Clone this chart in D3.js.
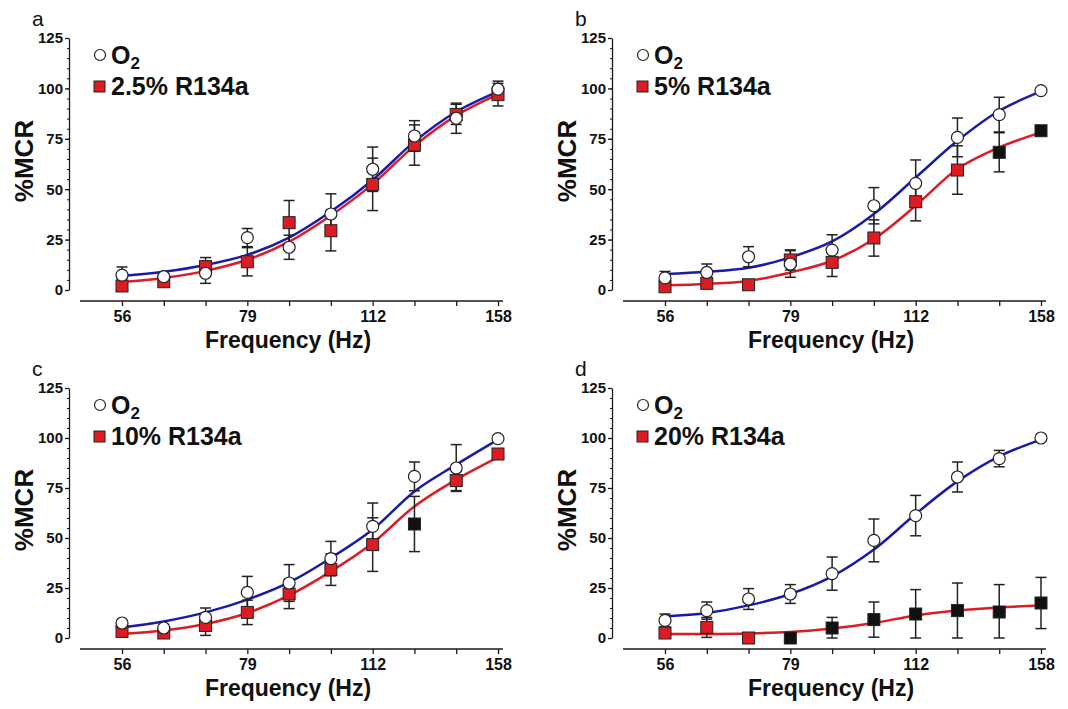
<!DOCTYPE html>
<html><head><meta charset="utf-8">
<script src="https://cdn.jsdelivr.net/npm/d3@7"></script>
<style>body{margin:0;background:#fff}svg{display:block;font-family:"Liberation Sans",Arial,sans-serif}</style>
</head><body><svg id="c" width="1068" height="709"></svg>
<script>
const freqs = ["56","63","71","79","89","100","112","126","141","158"];
const freqLabels = ["56","79","112","158"];
const yTicks = [0,25,50,75,100,125];
const panelLetters = ["a","b","c","d"];
const gasLabels = ["2.5% R134a","5% R134a","10% R134a","20% R134a"];

// panel a
const a_o2 = [7.4, 6.6, 8.3, 26, 21.2, 37.7, 59.9, 76.4, 85.2, 99.6];
const a_o2_err = [4, 1, 5, 4.5, 6, 10, 11, 7.6, 7.5, 4];
const a_r = [2, 4.1, 11.6, 14, 33.4, 29.4, 52.4, 71.9, 87.1, 96.9];
const a_r_err = [0, 0, 4.5, 7, 11, 10, 13, 10, 5, 5.6];
const a_r_sig = [0,0,0,0,0,0,0,0,0,0];
const a_fit_o2 = [6.9, 9, 12.4, 17.4, 26, 38.9, 54.6, 73.6, 88.4, 98.4];
const a_fit_r = [4, 6, 9.5, 15, 24, 37, 52.5, 71.5, 86.5, 97];
// panel b
const b_o2 = [6, 8.7, 16.5, 12.9, 19.8, 41.8, 52.9, 75.7, 87, 98.9];
const b_o2_err = [3.2, 4.2, 5, 6.6, 7.6, 9, 11.6, 9.6, 8.6, 0];
const b_r = [1.6, 3.3, 2.6, 14.9, 13.7, 25.8, 43.8, 59.5, 68.3, 79];
const b_r_err = [0, 0, 0, 5, 7, 9, 9.5, 12, 9.7, 2];
const b_r_sig = [0,0,0,0,0,0,0,0,1,1];
const b_fit_o2 = [7.9, 9, 11, 16.2, 24.1, 37.7, 55.8, 74, 88.9, 98.5];
const b_fit_r = [2.4, 3, 4.5, 8.7, 14.5, 25.3, 41.8, 60, 70.7, 78.2];
// panel c
const c_o2 = [7.5, 5, 10.3, 22.8, 27.5, 39.7, 55.8, 80.8, 85, 99.7];
const c_o2_err = [0, 0, 4.7, 8, 9.2, 8.6, 11.7, 7.2, 11.7, 0];
const c_r = [3.3, 2.5, 6.3, 12.8, 22, 34.2, 46.7, 57, 78.7, 92];
const c_r_err = [0, 0, 5, 6.1, 7.3, 7.9, 13.4, 13.8, 5, 0];
const c_r_sig = [0,0,0,0,0,0,0,1,0,0];
const c_fit_o2 = [5.3, 8.3, 12.8, 19.2, 27.8, 40, 54.2, 73.3, 86.7, 99.2];
const c_fit_r = [2, 3.7, 7, 12.5, 21.3, 33.3, 47.5, 65.8, 79.2, 90.3];
// panel d
const d_o2 = [8.8, 13.7, 19.5, 22, 32.2, 48.8, 61.2, 80.5, 89.7, 100];
const d_o2_err = [3.2, 4.3, 5.2, 4.7, 8.3, 10.7, 10.1, 7.5, 4.1, 0];
const d_r = [2.5, 5.3, 0, 0, 5, 9.2, 12, 13.7, 13, 17.5];
const d_r_err = [0, 5, 0, 0, 5.3, 8.8, 12.2, 13.8, 13.7, 12.8];
const d_r_sig = [0,0,0,1,1,1,1,1,1,1];
const d_fit_o2 = [10.8, 12.5, 16.3, 22, 30.8, 44.2, 62, 78.3, 90.8, 99.2];
const d_fit_r = [2, 2, 2.3, 3, 4.7, 7.5, 11.3, 13.7, 15.3, 16.3];

const panelData = [
  {o2:a_o2, o2e:a_o2_err, r:a_r, re:a_r_err, sig:a_r_sig, fo:a_fit_o2, fr:a_fit_r},
  {o2:b_o2, o2e:b_o2_err, r:b_r, re:b_r_err, sig:b_r_sig, fo:b_fit_o2, fr:b_fit_r},
  {o2:c_o2, o2e:c_o2_err, r:c_r, re:c_r_err, sig:c_r_sig, fo:c_fit_o2, fr:c_fit_r},
  {o2:d_o2, o2e:d_o2_err, r:d_r, re:d_r_err, sig:d_r_sig, fo:d_fit_o2, fr:d_fit_r}
];

const layout = [{ox:69, top:38, zero:290},{ox:612, top:38, zero:290},{ox:69, top:388, zero:638},{ox:612, top:388, zero:638}];
const BLUE = "#1a1aa8", RED = "#dc1c22", INK = "#1a1a1a";
const svg = d3.select("#c");

panelData.forEach((pd, i) => {
  const L = layout[i];
  const g = svg.append("g");
  const x = d3.scalePoint(freqs, [L.ox + 53, L.ox + 429]);
  const y = d3.scaleLinear([0, 125], [L.zero, L.top]);
  const xAxisY = L.zero + 11;

  // y axis minor ticks
  g.append("g").attr("transform", `translate(${L.ox},0)`)
    .call(d3.axisLeft(y).ticks(25).tickSize(2).tickFormat(""))
    .call(s => s.select(".domain").remove())
    .selectAll("line").attr("stroke", INK).attr("stroke-width", 1);
  // y axis major
  const ya = g.append("g").attr("transform", `translate(${L.ox},0)`)
    .call(d3.axisLeft(y).tickValues(yTicks).tickSize(4).tickPadding(2).tickSizeOuter(0));
  ya.select(".domain").attr("stroke", INK).attr("stroke-width", 1.3);
  ya.selectAll("line").attr("stroke", INK).attr("stroke-width", 1.3);
  ya.selectAll("text").attr("font-size", 15).attr("font-weight", "bold").attr("fill", "#111")
    .attr("font-family", '"Liberation Sans",Arial,sans-serif');

  // x axis
  g.append("line").attr("x1", L.ox + 11).attr("x2", L.ox + 434)
    .attr("y1", xAxisY).attr("y2", xAxisY).attr("stroke", INK).attr("stroke-width", 1.5);
  const xa = g.append("g").attr("transform", `translate(0,${xAxisY})`)
    .call(d3.axisBottom(x).tickSize(5).tickPadding(5).tickFormat(d => freqLabels.includes(d) ? d : ""));
  xa.select(".domain").remove();
  xa.selectAll("line").attr("stroke", INK).attr("stroke-width", 1.3);
  xa.selectAll("text").attr("font-size", 16).attr("font-weight", "bold").attr("fill", "#111")
    .attr("font-family", '"Liberation Sans",Arial,sans-serif');

  // titles
  g.append("text").attr("x", L.ox - 37).attr("y", L.top - 12).text(panelLetters[i])
    .attr("font-size", 21).attr("fill", "#111");
  g.append("text").attr("transform", `translate(${L.ox - 45},${(L.top + L.zero)/2 - 3}) rotate(-90)`)
    .attr("text-anchor", "middle").attr("dominant-baseline", "central")
    .attr("font-size", 26).attr("font-weight", "bold").attr("fill", "#111").text("%MCR");
  g.append("text").attr("x", L.ox + 219).attr("y", L.zero + 58).attr("text-anchor", "middle")
    .attr("font-size", 23).attr("font-weight", "bold").attr("fill", "#111").text("Frequency (Hz)");

  // fit curves
  const line = d3.line().x((d, j) => x(freqs[j])).y(d => y(d)).curve(d3.curveCatmullRom.alpha(0.5));
  g.append("path").attr("d", line(pd.fr)).attr("fill", "none").attr("stroke", RED).attr("stroke-width", 2.5);
  g.append("path").attr("d", line(pd.fo)).attr("fill", "none").attr("stroke", BLUE).attr("stroke-width", 2.5);

  // error bars
  const errBars = (vals, errs) => {
    vals.forEach((v, j) => {
      const e = errs[j];
      if (!e) return;
      const cx = x(freqs[j]);
      const y1 = y(Math.max(0, v - e)), y2 = y(v + e);
      g.append("line").attr("x1", cx).attr("x2", cx).attr("y1", y1).attr("y2", y2)
        .attr("stroke", "#222").attr("stroke-width", 1.5);
      [y1, y2].forEach(yy => g.append("line").attr("x1", cx - 5.5).attr("x2", cx + 5.5)
        .attr("y1", yy).attr("y2", yy).attr("stroke", "#222").attr("stroke-width", 1.5));
    });
  };
  errBars(pd.r, pd.re);
  errBars(pd.o2, pd.o2e);

  // markers
  g.selectAll(".sq").data(pd.r).join("rect")
    .attr("x", (d, j) => x(freqs[j]) - 6).attr("y", d => y(d) - 6)
    .attr("width", 12).attr("height", 12)
    .attr("fill", (d, j) => pd.sig[j] ? "#111" : RED).attr("stroke", "#222").attr("stroke-width", 1);
  g.selectAll(".ci").data(pd.o2).join("circle")
    .attr("cx", (d, j) => x(freqs[j])).attr("cy", d => y(d)).attr("r", 6)
    .attr("fill", "#fff").attr("stroke", "#222").attr("stroke-width", 1.2);

  // legend
  g.append("circle").attr("cx", L.ox + 31).attr("cy", L.top + 17).attr("r", 5.5)
    .attr("fill", "#fff").attr("stroke", "#222").attr("stroke-width", 1.2);
  const t = g.append("text").attr("x", L.ox + 42).attr("y", L.top + 26)
    .attr("font-size", 25).attr("font-weight", "bold").attr("fill", "#111");
  t.append("tspan").text("O");
  t.append("tspan").attr("font-size", 17).attr("dy", 5).text("2");
  g.append("rect").attr("x", L.ox + 25).attr("y", L.top + 43).attr("width", 11).attr("height", 11)
    .attr("fill", RED).attr("stroke", "#222").attr("stroke-width", 1);
  g.append("text").attr("x", L.ox + 42).attr("y", L.top + 57)
    .attr("font-size", 25).attr("font-weight", "bold").attr("fill", "#111").text(gasLabels[i]);
});
</script></body></html>
